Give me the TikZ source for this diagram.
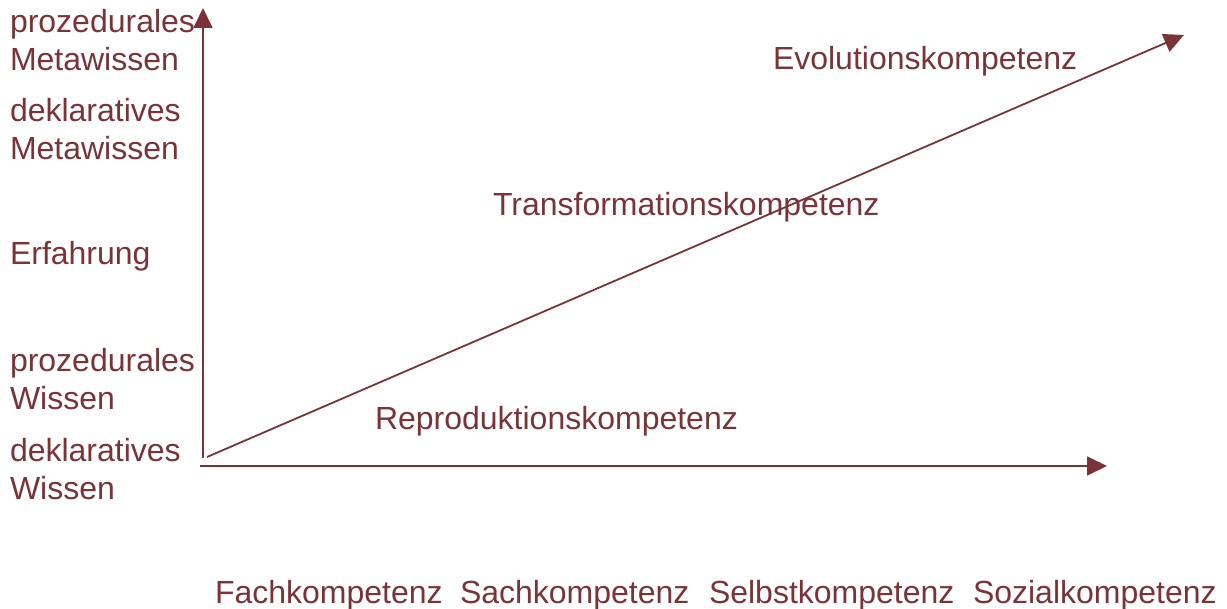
\documentclass[tikz,border=0pt]{standalone}
\usepackage{fontspec}
\setmainfont{Liberation Sans}
\usetikzlibrary{arrows.meta}
\definecolor{maroon}{RGB}{122,52,56}
\begin{document}
\begin{tikzpicture}[x=1pt,y=-1pt,
  lbl/.style={text=maroon,inner sep=0pt,outer sep=0pt,font=\fontsize{32}{38}\selectfont,align=left},
  axis/.style={draw=maroon,line width=1.8pt,-{Triangle[length=20pt,width=19pt]}}]
\useasboundingbox (0,0) rectangle (1227,609);
\coordinate (o) at (203,458);
\coordinate (ytip) at (203,8);
\coordinate (xo) at (200,466);
\coordinate (xtip) at (1107,466);
\coordinate (do) at (207,457);
\coordinate (dtip) at (1184,35);
\draw[axis] (o) -- (ytip);
\draw[axis] (xo) -- (xtip);
\draw[axis] (do) -- (dtip);
\node[lbl,anchor=base west] (pmw) at (10,71) {prozedurales\\Metawissen};
\node[lbl,anchor=base west] (dmw) at (10,160) {deklaratives\\Metawissen};
\node[lbl,anchor=base west] (erf) at (10,265) {Erfahrung};
\node[lbl,anchor=base west] (pw) at (10,410) {prozedurales\\Wissen};
\node[lbl,anchor=base west] (dw) at (10,500) {deklaratives\\Wissen};
\node[lbl,anchor=base west] (evo) at (773,70) {Evolutionskompetenz};
\node[lbl,anchor=base west] (tra) at (493,216) {Transformationskompetenz};
\node[lbl,anchor=base west] (rep) at (375,430) {Reproduktionskompetenz};
\node[lbl,anchor=base west] (fach) at (215,603) {Fachkompetenz};
\node[lbl,anchor=base west] (sach) at (460,603) {Sachkompetenz};
\node[lbl,anchor=base west] (selb) at (709,603) {Selbstkompetenz};
\node[lbl,anchor=base west] (soz) at (973,603) {Sozialkompetenz};
\end{tikzpicture}
\end{document}
